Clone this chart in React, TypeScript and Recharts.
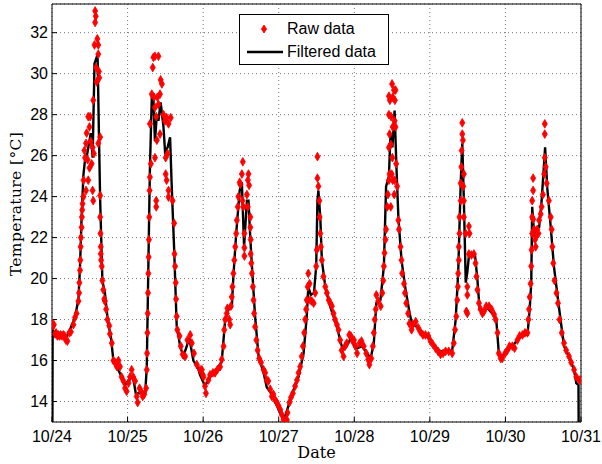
import React from 'react';
import {
  ComposedChart,
  Line,
  Scatter,
  XAxis,
  YAxis,
  ZAxis,
  CartesianGrid,
  Legend,
} from 'recharts';

// hours since 10/24 00:00
const dayTicks = [0, 24, 48, 72, 96, 120, 144, 168];
const dayLabels = ['10/24', '10/25', '10/26', '10/27', '10/28', '10/29', '10/30', '10/31'];
const tempTicks = [14, 16, 18, 20, 22, 24, 26, 28, 30, 32];

// [hour, temperature]
const rawData: [number, number][] = [
  [0.1, 17.8], [0.3, 17.7], [0.6, 17.75], [1.0, 17.3], [1.3, 17.35], [1.7, 17.2], [2.0, 17.25], [2.4, 17.2],
  [2.75, 17.25], [3.2, 17.2], [3.6, 17.25], [4.0, 17.2], [4.4, 17.0], [4.9, 16.95], [5.5, 17.35], [6.0, 17.4],
  [6.8, 17.75], [7.3, 18.1], [7.8, 18.3], [8.4, 18.9], [8.6, 19.3], [8.7, 19.8], [8.9, 20.4], [9.0, 20.9],
  [9.1, 21.55], [9.2, 22.0], [9.4, 22.5], [9.5, 23.0], [9.6, 23.35], [9.7, 23.65], [10.0, 24.0],
  [10.0, 24.8], [10.3, 26.25], [10.5, 25.9], [10.8, 26.6], [10.8, 24.3], [11.0, 27.1], [11.3, 25.8], [11.5, 24.8],
  [11.5, 27.9], [11.9, 27.4], [12.1, 27.9], [11.9, 25.4], [12.3, 26.7], [12.6, 25.6], [12.9, 24.3], [13.1, 23.8],
  [12.9, 26.4], [13.1, 28.7], [13.3, 26.1], [13.5, 31.4], [13.7, 33.06], [13.9, 32.8], [13.7, 32.5], [14.0, 30.3],
  [14.2, 29.6], [14.4, 31.7], [14.7, 31.4], [14.7, 30.95], [14.9, 30.1], [15.0, 29.8], [14.7, 26.6], [15.3, 26.9],
  [15.3, 24.05], [15.3, 23.0], [15.4, 22.2], [15.5, 21.55], [15.5, 21.2], [15.6, 20.9], [15.8, 20.6], [16.0, 19.9],
  [16.3, 19.45], [16.6, 19.0], [16.8, 18.9], [17.2, 18.5], [17.6, 18.0], [18.2, 17.7], [18.4, 17.3], [19.0, 16.85],
  [19.5, 16.0], [20.0, 15.9], [20.6, 15.7], [21.1, 16.0], [21.6, 15.7], [22.1, 15.2], [22.7, 15.0], [23.2, 14.65],
  [23.7, 14.5], [24.3, 14.9], [24.8, 15.2], [25.3, 15.55], [25.8, 15.2], [26.4, 15.0], [26.9, 14.25], [27.2, 13.95],
  [27.8, 14.65], [28.3, 14.5], [28.8, 14.25], [29.3, 14.35], [29.9, 14.65],
  [30.1, 15.55], [30.2, 16.35], [30.3, 17.35], [30.4, 18.3], [30.5, 19.3], [30.6, 20.25], [30.7, 21.05], [30.8, 21.9],
  [30.9, 23.0], [31.0, 24.3], [31.1, 24.95], [31.4, 25.6], [31.1, 27.55], [31.7, 29.0], [32.0, 30.3], [32.2, 30.8],
  [32.7, 30.85], [33.8, 30.85], [32.4, 28.85], [32.7, 28.35], [33.1, 27.9], [33.5, 28.85], [33.8, 28.5], [34.3, 29.0],
  [34.5, 29.7], [34.9, 29.5], [34.3, 27.05], [33.3, 26.75], [32.7, 25.9], [35.4, 28.0], [35.9, 27.7], [36.4, 27.85],
  [37.0, 27.55], [37.7, 27.85], [36.1, 25.9], [36.7, 26.1], [36.1, 25.1], [36.4, 24.8], [37.0, 24.3], [37.0, 23.98],
  [33.1, 23.8], [33.1, 23.5], [38.3, 23.8], [38.8, 22.7], [38.9, 21.2], [39.1, 20.6], [39.3, 19.8], [39.4, 19.0],
  [39.6, 18.15], [39.8, 17.5], [40.5, 17.2], [40.9, 16.7], [41.5, 16.3], [42.3, 16.2], [43.0, 17.0], [43.9, 17.25],
  [44.4, 16.85], [45.1, 16.35], [46.0, 15.8], [47.0, 15.55], [47.9, 15.3],
  [47.6, 15.55], [48.1, 15.2], [48.6, 14.75], [48.9, 14.4], [49.7, 15.05], [50.2, 15.3], [51.1, 15.4], [51.8, 15.4],
  [52.5, 15.55], [53.4, 15.7], [53.9, 16.05], [54.5, 16.7], [54.7, 17.5], [55.0, 18.0], [55.5, 18.3], [55.7, 18.55],
  [56.3, 18.0], [56.6, 17.75], [56.8, 18.65], [57.1, 19.1], [57.3, 19.6], [57.6, 20.25], [57.9, 20.9], [58.2, 21.55],
  [58.5, 22.2], [58.7, 22.85], [59.0, 23.5], [59.2, 24.0], [59.6, 24.7], [59.8, 24.6], [60.3, 25.1], [60.6, 25.7],
  [60.5, 23.8], [60.8, 23.5], [61.1, 22.2], [61.1, 21.5], [61.1, 21.1], [61.9, 24.1], [62.2, 24.8], [62.4, 25.1],
  [62.6, 24.55], [62.2, 23.5], [63.0, 23.0], [63.0, 22.5], [63.1, 21.9], [63.1, 21.2], [63.3, 20.75], [63.5, 20.25],
  [63.8, 19.6], [64.0, 18.95], [64.2, 18.3], [64.5, 17.65], [64.9, 17.0], [65.3, 16.5], [65.8, 16.1], [66.4, 15.9],
  [67.2, 15.55], [67.7, 15.4], [68.2, 15.05], [68.7, 15.0], [69.3, 14.6], [69.8, 14.25], [70.3, 14.35], [70.8, 14.1],
  [71.4, 13.95], [71.9, 13.8], [72.5, 13.6], [73.0, 13.35], [73.5, 13.1], [74.1, 13.1], [74.6, 13.1], [74.8, 13.45],
  [75.4, 13.95], [75.9, 14.2], [76.5, 14.4], [77.2, 14.75], [77.8, 15.05], [78.3, 15.4], [78.8, 15.7], [79.3, 16.2],
  [79.7, 16.7], [80.1, 17.35], [80.4, 18.0], [80.7, 18.5], [80.9, 18.95], [81.2, 19.6], [81.4, 20.25], [81.8, 19.75],
  [82.0, 18.95], [82.5, 18.9], [83.1, 18.8], [83.6, 19.3], [83.9, 20.6], [84.1, 21.4], [84.3, 25.95], [84.3, 24.9],
  [84.6, 24.5], [84.9, 23.8], [85.0, 23.0], [85.2, 22.2], [85.4, 21.55], [85.7, 20.9], [86.2, 20.1], [86.8, 19.6],
  [87.3, 19.3], [87.9, 18.95], [88.4, 18.8], [88.9, 18.65], [89.4, 18.3], [89.9, 18.0], [90.5, 17.75], [91.0, 17.5],
  [91.5, 17.0], [92.0, 16.5], [92.6, 16.2], [93.1, 16.7], [93.6, 16.85], [94.4, 17.25], [94.9, 17.2], [95.5, 16.95],
  [95.9, 17.0], [96.4, 16.7], [96.9, 16.35], [97.7, 16.85], [98.3, 16.95], [99.0, 16.7], [99.8, 16.35], [100.4, 16.05],
  [100.8, 15.8], [101.4, 16.1], [101.9, 16.7], [102.2, 17.35], [102.5, 18.0], [102.8, 18.5], [103.0, 19.2], [103.6, 18.9],
  [104.4, 18.65], [104.9, 19.3], [105.2, 19.9], [105.4, 20.6], [105.6, 21.25], [105.9, 21.9], [106.1, 22.4], [106.5, 23.5],
  [106.7, 24.1], [107.0, 24.8], [107.2, 25.1], [107.0, 26.4], [107.2, 27.05], [107.0, 28.0], [107.0, 28.9], [107.3, 28.7],
  [108.0, 29.5], [108.6, 29.2], [108.9, 28.7], [109.1, 29.2], [108.2, 28.85], [107.7, 27.9], [108.2, 27.4], [108.8, 27.7],
  [109.1, 27.4], [107.6, 26.55], [108.1, 25.9], [107.9, 25.1], [108.2, 24.8], [108.8, 24.8], [107.6, 23.5], [108.7, 24.1],
  [109.3, 25.6], [109.6, 24.5], [110.0, 22.85], [110.2, 22.4], [110.7, 21.55], [111.0, 20.9], [111.2, 20.25], [111.8, 19.75],
  [112.1, 19.3], [112.5, 18.8], [113.1, 18.3], [113.5, 17.8], [114.2, 17.5], [114.6, 17.75], [115.5, 17.9], [116.3, 17.6],
  [117.0, 17.4], [117.8, 17.25], [118.6, 17.25], [119.5, 17.2], [120.2, 16.95], [120.9, 16.8], [121.8, 16.6], [122.6, 16.45],
  [123.4, 16.3], [124.2, 16.35], [125.0, 16.45], [126.0, 16.45], [127.1, 16.35], [127.6, 16.85], [128.0, 17.5], [128.4, 18.15],
  [128.7, 18.95], [128.9, 19.6], [129.0, 20.25], [129.2, 20.9], [129.2, 21.55], [129.4, 22.2], [129.4, 23.0], [129.8, 23.8],
  [129.8, 24.65], [130.0, 25.45], [130.1, 26.25], [130.3, 27.05], [130.3, 27.6], [130.5, 26.75], [130.8, 25.1], [130.6, 24.5],
  [130.8, 23.8], [130.8, 23.0], [131.4, 22.2], [131.9, 19.6], [131.9, 19.2], [131.6, 18.4], [131.9, 18.3], [132.4, 22.55],
  [132.6, 22.2], [132.4, 21.2], [133.2, 21.15], [134.0, 21.2], [134.5, 20.75], [134.8, 20.1], [135.1, 19.45], [135.6, 18.8],
  [136.1, 18.5], [136.7, 18.3], [137.2, 18.4], [137.9, 18.65], [138.8, 18.65], [139.6, 18.5], [140.4, 18.25], [140.9, 18.0],
  [141.5, 17.35], [141.9, 16.35], [142.5, 16.1], [143.0, 16.1], [143.9, 16.35], [144.6, 16.5], [145.3, 16.7], [146.2, 16.7],
  [146.9, 16.6], [147.8, 17.0], [148.5, 17.2], [149.4, 17.25], [150.2, 17.35], [151.0, 17.35], [151.3, 18.0], [151.5, 18.5],
  [151.7, 19.1], [152.0, 19.75], [152.2, 20.6], [152.3, 21.4], [152.5, 22.2], [152.5, 23.0], [152.5, 23.8], [152.8, 24.3],
  [152.8, 24.9], [152.8, 22.9], [153.1, 22.4], [153.4, 21.9], [153.6, 21.55], [153.8, 22.05], [154.1, 22.4], [154.5, 22.2],
  [154.7, 22.85], [155.2, 23.15], [155.5, 23.5], [155.9, 24.1], [156.3, 25.1], [156.5, 25.9], [156.5, 27.05], [156.5, 27.55],
  [156.8, 25.45], [157.1, 24.65], [157.8, 23.8], [158.4, 23.0], [158.7, 22.4], [158.9, 21.55], [159.2, 20.75], [159.6, 19.9],
  [160.2, 19.3], [160.7, 18.8], [161.2, 18.0], [161.9, 17.35], [162.6, 16.85], [163.3, 16.5], [164.2, 16.2], [164.9, 15.9],
  [165.8, 15.55], [166.5, 15.2], [167.4, 15.05], [167.9, 15.05],
];

const filteredData: [number, number][] = [
  [0, 5], [0.2, 17.6], [0.5, 17.2], [4.7, 17.2], [5.7, 17.5], [7.3, 18.1], [8.4, 19.0], [8.9, 20.6], [9.4, 23.0],
  [10.0, 25.1], [10.5, 25.8], [11.2, 26.1], [12.3, 27.1], [12.9, 25.9], [13.5, 30.5], [14.2, 30.8], [14.5, 30.7],
  [14.9, 27.1], [15.3, 23.8], [16.0, 19.9], [16.8, 19.3], [17.9, 17.7], [18.6, 17.3], [19.5, 16.0], [20.6, 15.7],
  [22.1, 15.2], [23.2, 14.8], [24.8, 15.15], [25.8, 15.15], [26.6, 14.4], [29.6, 14.4], [30.1, 15.7], [30.6, 20.6],
  [31.1, 25.4], [31.7, 28.85], [32.2, 28.8], [32.7, 26.7], [33.3, 28.0], [33.8, 27.7], [34.5, 28.6], [35.4, 27.4],
  [35.9, 26.2], [36.7, 26.4], [37.5, 26.9], [38.0, 24.6], [38.8, 21.4], [39.6, 17.7], [40.7, 16.7], [41.7, 16.2],
  [42.8, 16.7], [43.6, 17.1], [44.9, 16.0], [46.5, 15.6], [47.0, 15.3], [48.6, 14.75], [50.2, 15.2], [52.3, 15.55],
  [53.9, 15.95], [55.0, 18.0], [56.1, 18.5], [57.1, 18.6], [57.6, 20.1], [58.5, 22.2], [59.6, 24.3], [60.3, 24.7],
  [61.0, 21.55], [61.9, 23.8], [62.4, 23.8], [63.0, 21.9], [63.5, 20.6], [64.5, 18.15], [65.6, 16.2], [67.2, 15.4],
  [68.2, 14.7], [69.8, 14.35], [71.4, 13.8], [72.4, 13.45], [74.0, 13.25], [76.2, 14.35], [78.3, 15.2], [79.9, 16.35],
  [80.9, 18.15], [81.4, 19.6], [82.2, 19.2], [83.2, 19.3], [83.9, 20.6], [84.3, 23.8], [84.6, 24.3], [85.2, 23.0],
  [85.7, 20.9], [86.8, 19.6], [88.4, 18.6], [90.5, 17.65], [91.5, 17.0], [92.4, 16.5], [93.6, 16.7], [94.9, 17.1],
  [96.3, 16.6], [96.9, 16.6], [98.5, 16.7], [100.1, 16.35], [101.2, 16.1], [102.2, 16.85], [103.0, 18.8], [104.3, 18.95],
  [105.4, 20.6], [106.1, 24.5], [107.0, 25.0], [107.5, 27.05], [108.1, 26.4], [108.8, 28.2], [109.4, 25.4], [110.0, 23.0],
  [111.0, 20.9], [112.3, 19.45], [113.6, 18.3], [114.4, 17.75], [116.0, 17.65], [117.6, 17.35], [119.7, 17.1], [121.3, 16.7],
  [123.4, 16.45], [125.5, 16.45], [127.1, 16.5], [128.2, 18.0], [129.0, 20.3], [129.8, 24.7], [130.3, 26.6], [130.8, 23.8],
  [131.4, 19.8], [131.9, 20.3], [132.4, 21.1], [133.5, 21.2], [134.3, 21.2], [135.1, 19.95], [135.8, 18.5], [136.9, 18.4],
  [138.3, 18.55], [139.8, 18.3], [141.1, 18.0], [141.9, 16.35], [143.0, 16.2], [144.6, 16.5], [146.2, 16.7], [147.8, 17.0],
  [149.4, 17.25], [151.0, 17.25], [151.7, 18.5], [152.2, 19.8], [152.5, 23.5], [153.1, 22.2], [153.8, 22.4], [154.7, 22.5],
  [155.5, 23.8], [156.6, 26.4], [157.3, 24.4], [158.4, 22.5], [159.4, 20.6], [161.0, 18.6], [162.6, 16.7], [164.2, 16.2],
  [165.8, 15.55], [166.5, 14.9], [167.2, 14.8], [167.5, 5],
];

const rawPoints = rawData.map(([h, t]) => ({ h, t }));
const filteredPoints = filteredData.map(([h, t]) => ({ h, t }));

const SANS = '"Liberation Sans", Arial, Helvetica, sans-serif';
const SERIF = '"DejaVu Serif", "Liberation Serif", serif';
const RED = '#ff0000';

function LegendBox() {
  return (
    <div
      style={{
        position: 'relative',
        width: 148,
        height: 49,
        border: '1px solid #000',
        background: '#fff',
        fontFamily: SANS,
        fontSize: 16,
        color: '#000',
      }}
    >
      <svg style={{ position: 'absolute', left: 0, top: 0 }} width={48} height={49}>
        <path d="M24 10 L26.6 14 L24 18 L21.4 14 Z" fill={RED} stroke={RED} strokeWidth={0.8} />
        <line x1={7} y1={37} x2={43} y2={37} stroke="#000" strokeWidth={2.4} />
      </svg>
      <span style={{ position: 'absolute', left: 47, top: 4, lineHeight: '20px' }}>Raw data</span>
      <span style={{ position: 'absolute', left: 47, top: 27, lineHeight: '20px' }}>Filtered data</span>
    </div>
  );
}

export default function App() {
  return (
    <div style={{ width: 602, height: 464 }}>
      <style>{'body{margin:0}'}</style>
      <ComposedChart
        width={602}
        height={464}
        margin={{ top: 3, right: 20, bottom: 6, left: 8 }}
      >
        <CartesianGrid strokeDasharray="1 3" stroke="#777" strokeWidth={1} />
        <XAxis
          dataKey="h"
          type="number"
          domain={[0, 168]}
          ticks={dayTicks}
          interval={0}
          height={36}
          allowDataOverflow
          axisLine={{ stroke: '#000' }}
          tickLine={{ stroke: '#000' }}
          tickSize={-5}
          tickMargin={14}
          tick={{ fill: '#000', fontSize: 16, fontFamily: SANS }}
          tickFormatter={(v) => dayLabels[dayTicks.indexOf(v)]}
          label={{
            value: 'Date',
            position: 'insideBottom',
            offset: 0,
            style: { fontFamily: SERIF, fontSize: 16, fill: '#000' },
          }}
        />
        <XAxis
          xAxisId="top"
          orientation="top"
          type="number"
          domain={[0, 168]}
          ticks={dayTicks}
          interval={0}
          height={1}
          axisLine={{ stroke: '#000' }}
          tickLine={{ stroke: '#000' }}
          tickSize={-5}
          tick={false}
        />
        <YAxis
          dataKey="t"
          type="number"
          domain={[13, 33.4]}
          ticks={tempTicks}
          interval={0}
          width={44}
          allowDataOverflow
          axisLine={{ stroke: '#000' }}
          tickLine={{ stroke: '#000' }}
          tickSize={-5}
          tickMargin={9}
          tick={{ fill: '#000', fontSize: 16, fontFamily: SANS }}
          label={{
            content: () => (
              <text
                x={21}
                y={204}
                transform="rotate(-90 21 204)"
                textAnchor="middle"
                style={{ fontFamily: SERIF, fontSize: 15.5, letterSpacing: 0.4, fill: '#000' }}
              >
                Temperature [°C]
              </text>
            ),
          }}
        />
        <YAxis
          yAxisId="right"
          orientation="right"
          type="number"
          domain={[13, 33.4]}
          ticks={tempTicks}
          interval={0}
          width={1}
          axisLine={{ stroke: '#000' }}
          tickLine={{ stroke: '#000' }}
          tickSize={-5}
          tick={false}
        />
        <ZAxis range={[22, 22]} />
        <Scatter
          name="Raw data"
          data={rawPoints}
          fill={RED}
          stroke={RED}
          strokeWidth={0.8}
          shape="diamond"
          isAnimationActive={false}
        />
        <Line
          name="Filtered data"
          data={filteredPoints}
          dataKey="t"
          type="linear"
          stroke="#000"
          strokeWidth={2.4}
          dot={false}
          activeDot={false}
          isAnimationActive={false}
        />
        <Legend
          layout="vertical"
          align="center"
          verticalAlign="middle"
          wrapperStyle={{ top: 14, left: 239, width: 150, height: 51 }}
          content={() => <LegendBox />}
        />
      </ComposedChart>
    </div>
  );
}
